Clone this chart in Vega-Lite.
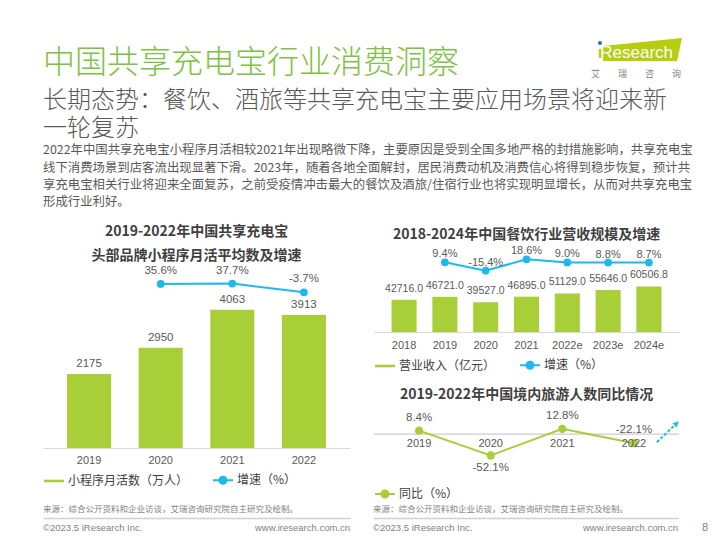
{
  "$schema": "https://vega.github.io/schema/vega-lite/v6.json",
  "padding": {"left": 43, "top": 38, "right": 0, "bottom": 0},
  "background": "white",
  "config": {
    "view": {"stroke": null},
    "font": "Liberation Sans",
    "axis": {"grid": false, "ticks": false, "title": null, "labelFont": "Liberation Sans", "labelFontSize": 11, "labelColor": "#595959", "domainColor": "#D9D9D9", "labelPadding": 6, "labelAngle": 0},
    "legend": {"title": null, "orient": "bottom", "direction": "horizontal", "symbolSize": 400, "labelFont": "Noto Sans CJK SC", "labelFontSize": 12, "labelColor": "#404040", "columnPadding": 20, "labelOffset": 3, "symbolStrokeWidth": 2, "symbolOpacity": 1, "offset": 4}
  },
  "spacing": 10,
  "vconcat": [
    {
      "width": 637,
      "height": 30,
      "data": {"values": [{"item": "中国共享充电宝行业消费洞察"}, {"item": "iResearch"}]},
      "encoding": {"x": {"field": "item", "type": "nominal", "scale": {"type": "point", "domain": ["中国共享充电宝行业消费洞察", "iResearch"], "padding": 0}, "axis": null}},
      "layer": [
        {"transform": [{"filter": "datum.item === '中国共享充电宝行业消费洞察'"}], "mark": {"type": "text", "align": "left", "baseline": "middle", "dy": 4, "font": "Noto Sans CJK SC", "fontSize": 32, "fontWeight": 300, "color": "#7DC242"}, "encoding": {"text": {"field": "item"}}},
        {
          "transform": [{"filter": "datum.item === 'iResearch'"}],
          "layer": [
            {"mark": {"type": "point", "shape": "M-1.925,-0.325L0.05,-0.525L-0.075,0.05L-1.925,0.05Z", "size": 6400, "filled": true, "color": "#B5CE0E", "opacity": 1, "strokeWidth": 0}},
            {"mark": {"type": "point", "shape": "M-2.05,-0.4A0.05,0.05 0 1,0 -1.95,-0.4A0.05,0.05 0 1,0 -2.05,-0.4Z", "size": 6400, "filled": true, "color": "#2E6DB4", "opacity": 1, "strokeWidth": 0}},
            {"mark": {"type": "text", "align": "right", "baseline": "middle", "dx": -7, "dy": -6, "font": "Liberation Sans", "fontSize": 17, "color": "white"}, "encoding": {"text": {"value": "Research"}}},
            {"mark": {"type": "text", "align": "center", "baseline": "middle", "dx": -80, "dy": -6, "font": "Liberation Sans", "fontSize": 17, "fontWeight": "bold", "color": "#B5CE0E"}, "encoding": {"text": {"value": "ı"}}},
            {"mark": {"type": "text", "align": "right", "baseline": "middle", "dx": 1, "dy": 15, "font": "Noto Sans CJK SC", "fontSize": 9, "color": "#7F7F7F"}, "encoding": {"text": {"value": "艾　　瑞　　咨　　询"}}}
          ]
        }
      ]
    },
    {
      "title": {
        "text": ["长期态势：餐饮、酒旅等共享充电宝主要应用场景将迎来新", "一轮复苏"],
        "subtitle": [
          "2022年中国共享充电宝小程序月活相较2021年出现略微下降，主要原因是受到全国多地严格的封措施影响，共享充电宝",
          "线下消费场景到店客流出现显著下滑。2023年，随着各地全面解封，居民消费动机及消费信心将得到稳步恢复，预计共",
          "享充电宝相关行业将迎来全面复苏，之前受疫情冲击最大的餐饮及酒旅/住宿行业也将实现明显增长，从而对共享充电宝",
          "形成行业利好。"
        ],
        "anchor": "start",
        "font": "Noto Sans CJK SC",
        "fontSize": 24,
        "fontWeight": 300,
        "color": "#595959",
        "lineHeight": 28,
        "subtitleFont": "Noto Sans CJK SC",
        "subtitleFontSize": 12.4,
        "subtitleColor": "#595959",
        "subtitleLineHeight": 17.3,
        "subtitlePadding": 3,
        "offset": 16
      },
      "spacing": 2,
      "vconcat": [
        {
          "spacing": 23,
          "resolve": {"scale": {"color": "independent", "shape": "independent", "stroke": "independent"}},
          "hconcat": [
            {
              "width": 307,
              "height": 183,
              "title": {"text": "2019-2022年中国共享充电宝", "subtitle": "头部品牌小程序月活平均数及增速", "font": "Noto Sans CJK SC", "fontSize": 14, "fontWeight": "bold", "color": "#404040", "subtitleFont": "Noto Sans CJK SC", "subtitleFontSize": 14, "subtitleFontWeight": "bold", "subtitleColor": "#404040", "subtitlePadding": 10, "anchor": "middle", "offset": 2},
              "data": {"values": [
                {"year": "2019", "mau": 2175, "growth": null},
                {"year": "2020", "mau": 2950, "growth": 35.6},
                {"year": "2021", "mau": 4063, "growth": 37.7},
                {"year": "2022", "mau": 3913, "growth": -3.7}
              ]},
              "layer": [
                {
                  "encoding": {
                    "x": {"field": "year", "type": "ordinal", "scale": {"domain": ["2019", "2020", "2021", "2022"], "paddingInner": 0.385, "paddingOuter": 0.336}, "axis": {"labelPadding": 6}},
                    "y": {"field": "mau", "type": "quantitative", "scale": {"domain": [0, 5382]}, "axis": null}
                  },
                  "layer": [
                    {"mark": {"type": "bar", "color": "#A8CF38"}},
                    {"mark": {"type": "text", "dy": -10, "fontSize": 11.5, "color": "#595959", "font": "Liberation Sans"}, "encoding": {"text": {"field": "mau", "type": "quantitative", "format": "d"}}}
                  ]
                },
                {
                  "transform": [{"filter": "datum.growth != null"}, {"calculate": "replace(format(datum.growth, '.1f'), '\u2212', '-') + '%'", "as": "glabel"}],
                  "encoding": {
                    "x": {"field": "year", "type": "ordinal", "scale": {"domain": ["2019", "2020", "2021", "2022"], "paddingInner": 0.385, "paddingOuter": 0.336}, "axis": {"labelPadding": 6}},
                    "y": {"field": "growth", "type": "quantitative", "scale": {"domain": [-741.7, 125.6]}, "axis": null}
                  },
                  "layer": [
                    {"mark": {"type": "line", "color": "#1DB9EE", "strokeWidth": 2}},
                    {"mark": {"type": "point", "filled": true, "size": 60, "color": "#1DB9EE", "opacity": 1}},
                    {"mark": {"type": "text", "dy": -13, "fontSize": 11.5, "color": "#595959", "font": "Liberation Sans"}, "encoding": {"text": {"field": "glabel"}}}
                  ]
                },
                {
                  "data": {"values": [{"s1": "小程序月活数（万人）"}, {"s1": "增速（%）"}]},
                  "mark": {"type": "point", "filled": true, "opacity": 0},
                  "encoding": {
                    "color": {"field": "s1", "type": "nominal", "scale": {"domain": ["小程序月活数（万人）", "增速（%）"], "range": ["#A8CF38", "#1DB9EE"]}},
                    "stroke": {"field": "s1", "type": "nominal", "scale": {"domain": ["小程序月活数（万人）", "增速（%）"], "range": ["rgba(0,0,0,0)", "#1DB9EE"]}},
                    "shape": {"field": "s1", "type": "nominal", "scale": {"domain": ["小程序月活数（万人）", "增速（%）"], "range": ["M-1,-0.13L1,-0.13L1,0.13L-1,0.13Z", "M-1,0L1,0M-0.35,0A0.35,0.35 0 1,0 0.35,0A0.35,0.35 0 1,0 -0.35,0Z"]}}
                  }
                }
              ],
              "resolve": {"scale": {"y": "independent"}}
            },
            {
              "spacing": 14,
              "resolve": {"scale": {"color": "independent", "shape": "independent", "stroke": "independent"}},
              "vconcat": [
                {
                  "width": 305,
                  "height": 67,
                  "title": {"text": "2018-2024年中国餐饮行业营收规模及增速", "font": "Noto Sans CJK SC", "fontSize": 14, "fontWeight": "bold", "color": "#404040", "anchor": "middle", "offset": 3},
                  "data": {"values": [
                    {"year": "2018", "rev": 42716.0, "growth": null},
                    {"year": "2019", "rev": 46721.0, "growth": 9.4},
                    {"year": "2020", "rev": 39527.0, "growth": -15.4},
                    {"year": "2021", "rev": 46895.0, "growth": 18.6},
                    {"year": "2022e", "rev": 51129.0, "growth": 9.0},
                    {"year": "2023e", "rev": 55646.0, "growth": 8.8},
                    {"year": "2024e", "rev": 60506.8, "growth": 8.7}
                  ]},
                  "layer": [
                    {
                      "encoding": {
                        "x": {"field": "year", "type": "ordinal", "scale": {"domain": ["2018", "2019", "2020", "2021", "2022e", "2023e", "2024e"], "paddingInner": 0.386, "paddingOuter": 0.43}, "axis": {"labelPadding": 7}},
                        "y": {"field": "rev", "type": "quantitative", "scale": {"domain": [0, 88977]}, "axis": null}
                      },
                      "layer": [
                        {"mark": {"type": "bar", "color": "#A8CF38"}},
                        {"mark": {"type": "text", "dy": -11, "fontSize": 10.5, "color": "#595959", "font": "Liberation Sans"}, "encoding": {"text": {"field": "rev", "type": "quantitative", "format": ".1f"}}}
                      ]
                    },
                    {
                      "transform": [{"filter": "datum.growth != null"}, {"calculate": "replace(format(datum.growth, '.1f'), '\u2212', '-') + '%'", "as": "glabel"}],
                      "encoding": {
                        "x": {"field": "year", "type": "ordinal", "scale": {"domain": ["2018", "2019", "2020", "2021", "2022e", "2023e", "2024e"], "paddingInner": 0.386, "paddingOuter": 0.43}, "axis": {"labelPadding": 7}},
                        "y": {"field": "growth", "type": "quantitative", "scale": {"domain": [-198.5, 1.5]}, "axis": null}
                      },
                      "layer": [
                        {"mark": {"type": "line", "color": "#1DB9EE", "strokeWidth": 2}},
                        {"mark": {"type": "point", "filled": true, "size": 60, "color": "#1DB9EE", "opacity": 1}},
                        {"mark": {"type": "text", "dy": -8, "fontSize": 11, "color": "#595959", "font": "Liberation Sans"}, "encoding": {"text": {"field": "glabel"}}}
                      ]
                    },
                    {
                      "data": {"values": [{"s2": "营业收入（亿元）"}, {"s2": "增速（%）"}]},
                      "mark": {"type": "point", "filled": true, "opacity": 0},
                      "encoding": {
                        "color": {"field": "s2", "type": "nominal", "scale": {"domain": ["营业收入（亿元）", "增速（%）"], "range": ["#A8CF38", "#1DB9EE"]}},
                        "stroke": {"field": "s2", "type": "nominal", "scale": {"domain": ["营业收入（亿元）", "增速（%）"], "range": ["rgba(0,0,0,0)", "#1DB9EE"]}},
                        "shape": {"field": "s2", "type": "nominal", "scale": {"domain": ["营业收入（亿元）", "增速（%）"], "range": ["M-1,-0.13L1,-0.13L1,0.13L-1,0.13Z", "M-1,0L1,0M-0.35,0A0.35,0.35 0 1,0 0.35,0A0.35,0.35 0 1,0 -0.35,0Z"]}}
                      }
                    }
                  ],
                  "resolve": {"scale": {"y": "independent"}}
                },
                {
                  "width": 305,
                  "height": 69,
                  "title": {"text": "2019-2022年中国境内旅游人数同比情况", "font": "Noto Sans CJK SC", "fontSize": 14, "fontWeight": "bold", "color": "#404040", "anchor": "middle", "offset": 8},
                  "data": {"values": [
                    {"year": "2019", "yoy": 8.4},
                    {"year": "2020", "yoy": -52.1},
                    {"year": "2021", "yoy": 12.8},
                    {"year": "2022", "yoy": -22.1}
                  ]},
                  "layer": [
                    {
                      "data": {"values": [{"zero": 0}]},
                      "mark": {"type": "rule", "color": "#BFBFBF", "strokeWidth": 1},
                      "encoding": {"y": {"field": "zero", "type": "quantitative", "scale": {"domain": [-109.5, 58.8]}, "axis": null}}
                    },
                    {
                      "transform": [{"calculate": "replace(format(datum.yoy, '.1f'), '\u2212', '-') + '%'", "as": "lab"}],
                      "encoding": {
                        "x": {"field": "year", "type": "ordinal", "scale": {"type": "point", "domain": ["2019", "2020", "2021", "2022"], "padding": 0.63}, "axis": null},
                        "y": {"field": "yoy", "type": "quantitative", "scale": {"domain": [-109.5, 58.8]}, "axis": null}
                      },
                      "layer": [
                        {"mark": {"type": "line", "color": "#A8CF38", "strokeWidth": 2}},
                        {"mark": {"type": "point", "filled": true, "size": 70, "color": "#A8CF38", "opacity": 1}},
                        {"transform": [{"filter": "datum.year !== '2020'"}], "mark": {"type": "text", "dy": -13, "fontSize": 11.5, "color": "#595959", "font": "Liberation Sans"}, "encoding": {"text": {"field": "lab"}}},
                        {"transform": [{"filter": "datum.year === '2020'"}], "mark": {"type": "text", "dy": 13, "fontSize": 11.5, "color": "#595959", "font": "Liberation Sans"}, "encoding": {"text": {"field": "lab"}}},
                        {"mark": {"type": "text", "dy": 10, "fontSize": 11, "color": "#595959", "font": "Liberation Sans"}, "encoding": {"y": {"datum": 0, "type": "quantitative"}, "text": {"field": "year"}}},
                        {"transform": [{"filter": "datum.year === '2022'"}], "mark": {"type": "point", "shape": "M2.3,-0.1L4.07,-1.79", "size": 400, "filled": false, "stroke": "#1DB9EE", "strokeWidth": 2, "strokeDash": [3, 2], "opacity": 1}},
                        {"transform": [{"filter": "datum.year === '2022'"}], "mark": {"type": "point", "shape": "M4.5,-2.2L4.273,-1.568L3.859,-2.002Z", "size": 400, "filled": true, "color": "#1DB9EE", "opacity": 1}}
                      ]
                    },
                    {
                      "data": {"values": [{"s3": "同比（%）"}]},
                      "mark": {"type": "point", "filled": true, "opacity": 0},
                      "encoding": {
                        "color": {"field": "s3", "type": "nominal", "scale": {"domain": ["同比（%）"], "range": ["#A8CF38"]}},
                        "stroke": {"field": "s3", "type": "nominal", "scale": {"domain": ["同比（%）"], "range": ["#A8CF38"]}},
                        "shape": {"field": "s3", "type": "nominal", "scale": {"domain": ["同比（%）"], "range": ["M-1,0L1,0M-0.35,0A0.35,0.35 0 1,0 0.35,0A0.35,0.35 0 1,0 -0.35,0Z"]}}
                      }
                    }
                  ]
                }
              ]
            }
          ]
        },
        {
          "spacing": 23,
          "hconcat": [
            {
              "width": 307,
              "height": 20,
              "title": {"text": "来源：综合公开资料和企业访谈，艾瑞咨询研究院自主研究及绘制。", "font": "Noto Sans CJK SC", "fontSize": 8.5, "fontWeight": "normal", "color": "#7F7F7F", "anchor": "start", "offset": 5},
              "data": {"values": [{"label": "©2023.5 iResearch Inc."}, {"label": "www.iresearch.com.cn"}]},
              "encoding": {
                "x": {"field": "label", "type": "nominal", "scale": {"type": "point", "domain": ["©2023.5 iResearch Inc.", "www.iresearch.com.cn"], "padding": 0}, "axis": {"orient": "top", "labels": false, "ticks": false, "domain": true, "domainColor": "#D0D0D0", "domainWidth": 1.5}},
                "text": {"field": "label"}
              },
              "layer": [
                {"transform": [{"filter": "datum.label === '©2023.5 iResearch Inc.'"}], "mark": {"type": "text", "align": "left", "fontSize": 9.5, "color": "#7F7F7F", "font": "Liberation Sans"}},
                {"transform": [{"filter": "datum.label === 'www.iresearch.com.cn'"}], "mark": {"type": "text", "align": "right", "fontSize": 9.5, "color": "#7F7F7F", "font": "Liberation Sans"}}
              ]
            },
            {
              "width": 305,
              "height": 20,
              "title": {"text": "来源：综合公开资料和企业访谈，艾瑞咨询研究院自主研究及绘制。", "font": "Noto Sans CJK SC", "fontSize": 8.5, "fontWeight": "normal", "color": "#7F7F7F", "anchor": "start", "offset": 5},
              "data": {"values": [{"label": "©2023.5 iResearch Inc."}, {"label": "www.iresearch.com.cn"}]},
              "encoding": {
                "x": {"field": "label", "type": "nominal", "scale": {"type": "point", "domain": ["©2023.5 iResearch Inc.", "www.iresearch.com.cn"], "padding": 0}, "axis": {"orient": "top", "labels": false, "ticks": false, "domain": true, "domainColor": "#D0D0D0", "domainWidth": 1.5}},
                "text": {"field": "label"}
              },
              "layer": [
                {"transform": [{"filter": "datum.label === '©2023.5 iResearch Inc.'"}], "mark": {"type": "text", "align": "left", "fontSize": 9.5, "color": "#7F7F7F", "font": "Liberation Sans"}},
                {"transform": [{"filter": "datum.label === 'www.iresearch.com.cn'"}], "mark": {"type": "text", "align": "right", "fontSize": 9.5, "color": "#7F7F7F", "font": "Liberation Sans"}},
                {"transform": [{"filter": "datum.label === 'www.iresearch.com.cn'"}], "mark": {"type": "text", "align": "right", "dx": 30, "fontSize": 11, "color": "#7F7F7F", "font": "Liberation Sans"}, "encoding": {"text": {"value": "8"}}}
              ]
            }
          ]
        }
      ]
    }
  ]
}
